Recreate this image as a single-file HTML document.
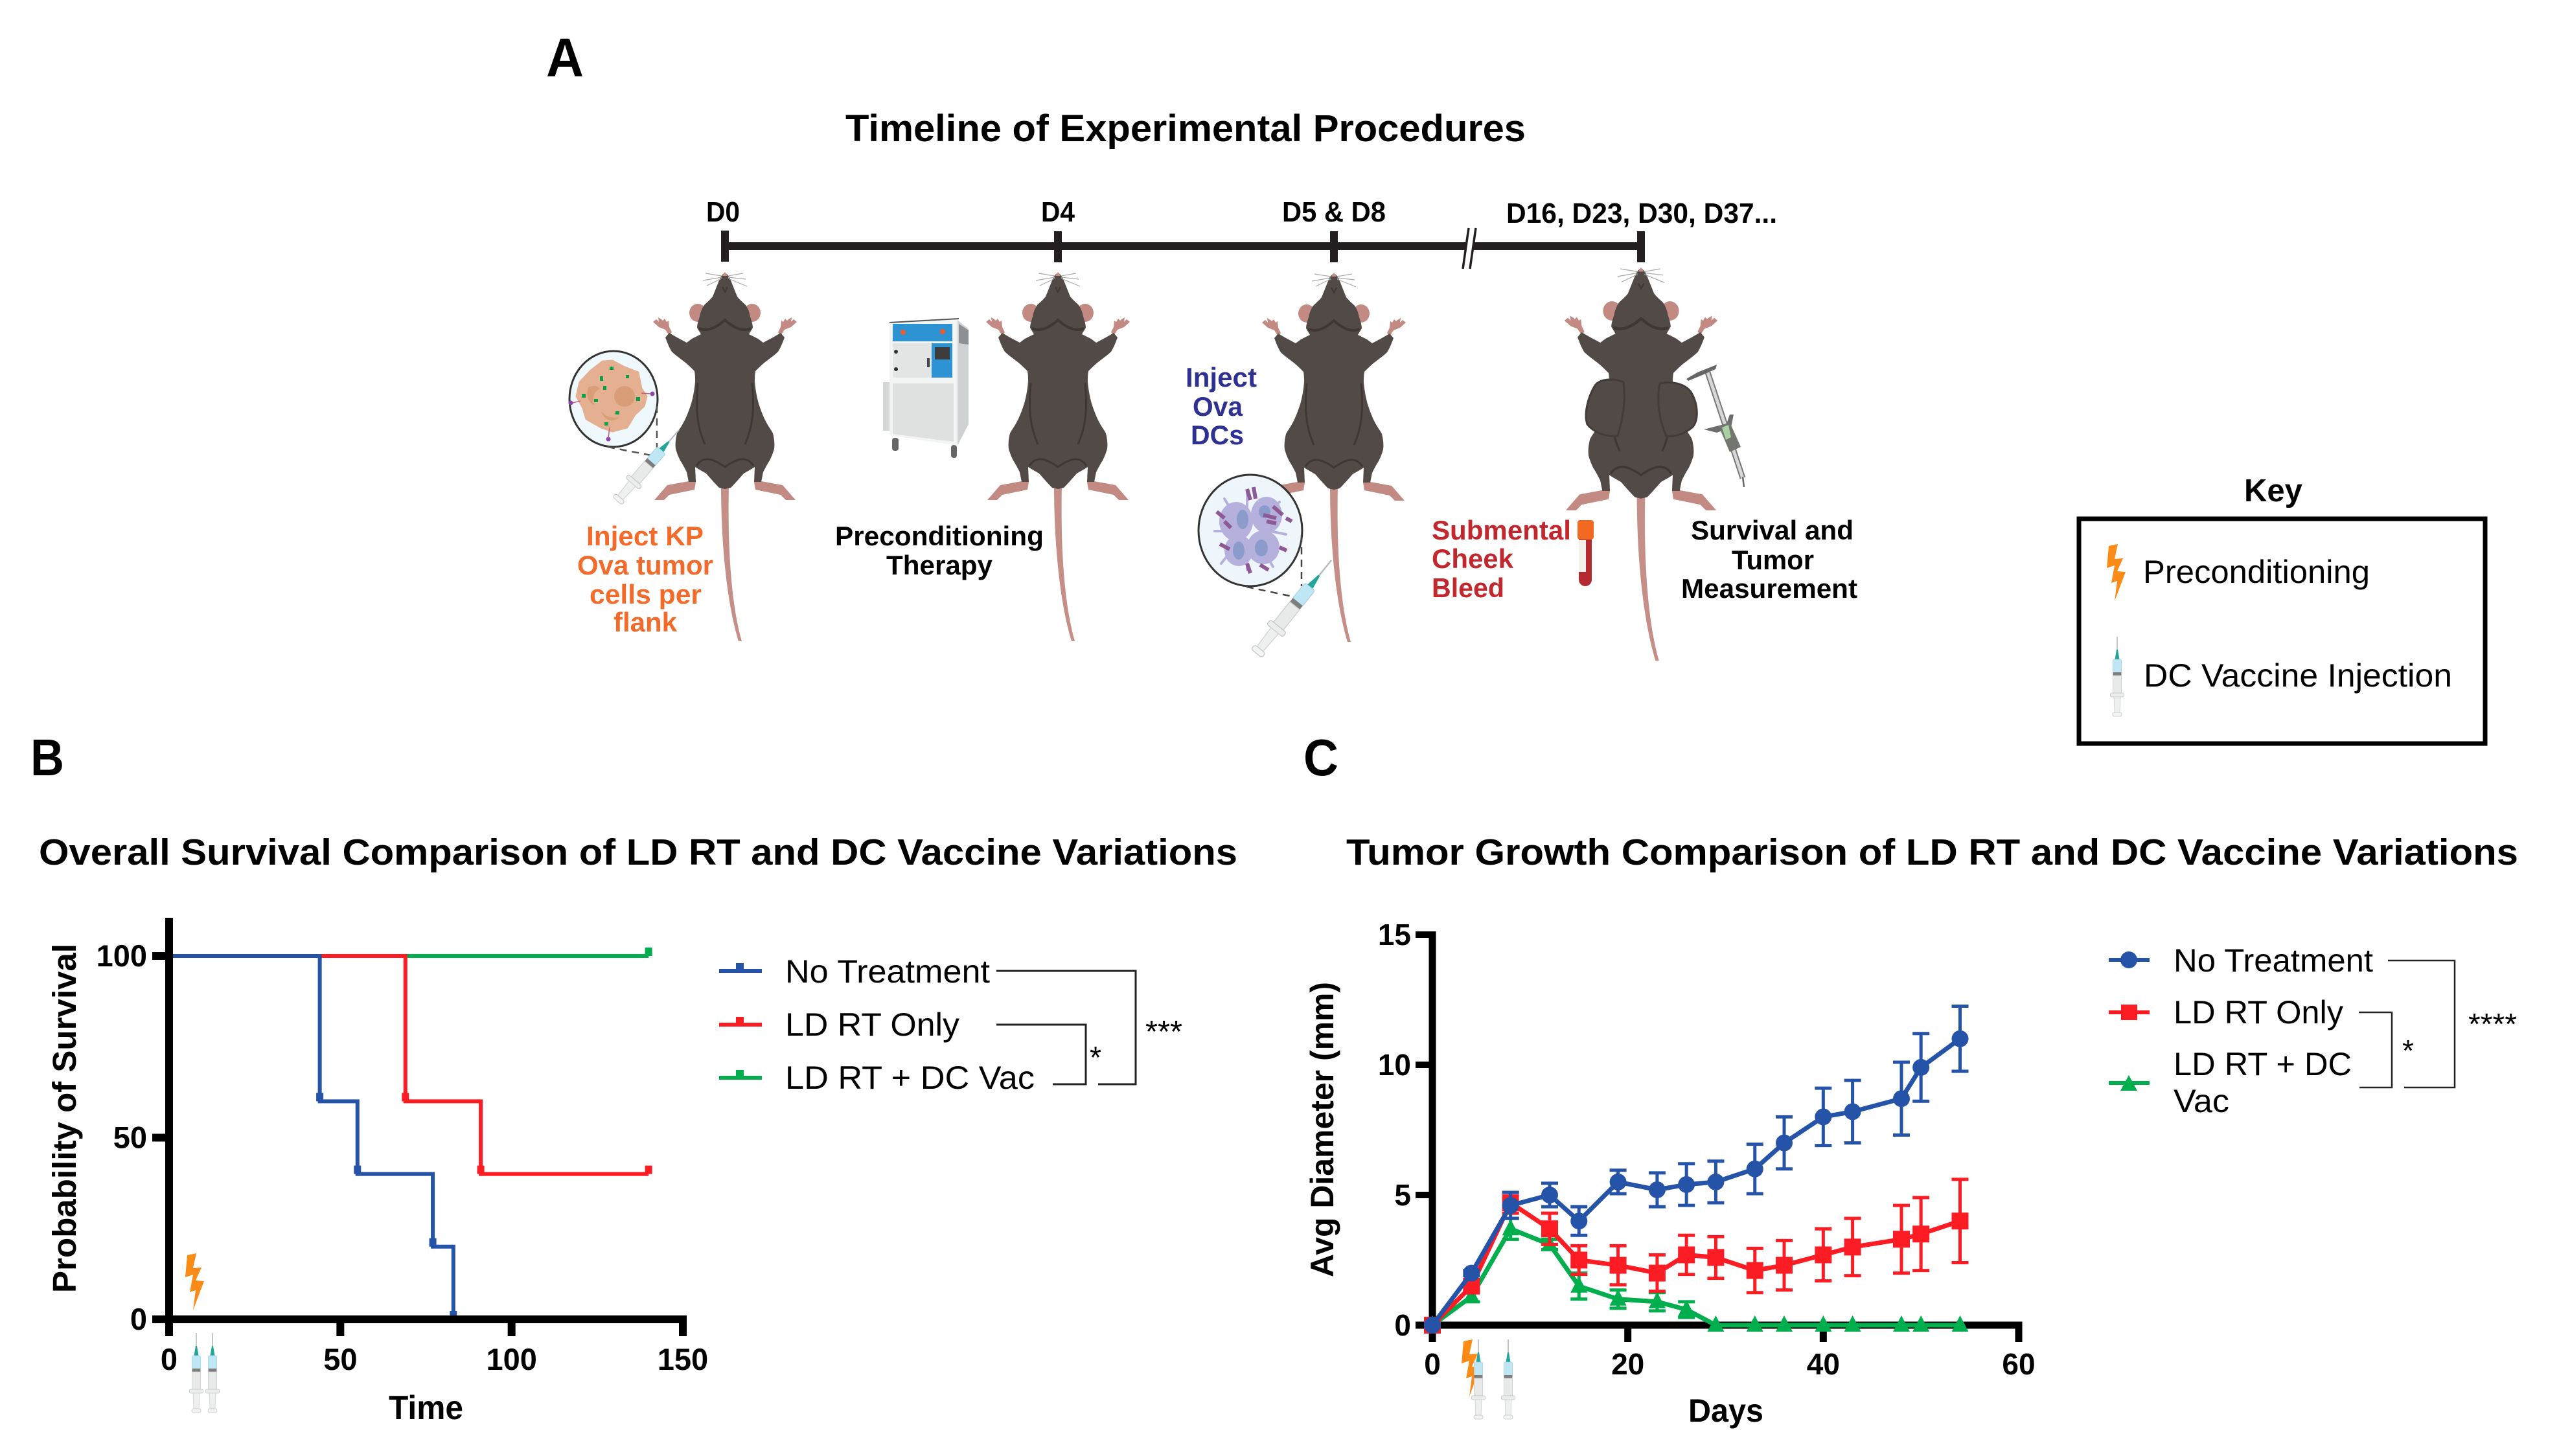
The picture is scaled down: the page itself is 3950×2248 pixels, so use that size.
<!DOCTYPE html>
<html lang="en">
<head>
<meta charset="utf-8">
<title>Experimental timeline, survival and tumor growth</title>
<style>
html,body{margin:0;padding:0;background:#fff;width:3950px;height:2248px;overflow:hidden}
svg{display:block}
text{font-family:"Liberation Sans",Arial,sans-serif;fill:#000}
.b{font-weight:700}
</style>
</head>
<body>
<svg id="figure" xmlns="http://www.w3.org/2000/svg" width="3950" height="2248" viewBox="0 0 3950 2248">
<defs>
  <g id="mouse-art">
    <path fill="#c58e87" d="M-6,328 L6,328 C4,420 9,510 26,569 L21,569 C3,510 -6,420 -6,328 Z"/>
    <g fill="#c28a82">
      <path d="M-45,323 L-56,322 L-89,328 L-109,351 L-94,351 L-86,343 L-47,335 Z"/>
      <path d="M45,323 L56,322 L89,328 L109,351 L94,351 L86,343 L47,335 Z"/>
      <path d="M-86,97 L-92,88 L-102,84 L-111,76 L-106,72 L-102,76 L-103,69 L-98,72 L-96,74 L-93,71 L-90,76 L-87,74 L-86,84 L-82,92 Z"/>
      <path d="M86,97 L92,88 L102,84 L111,76 L106,72 L102,76 L103,69 L98,72 L96,74 L93,71 L90,76 L87,74 L86,84 L82,92 Z"/>
      <ellipse cx="-42" cy="62" rx="13" ry="14"/>
      <ellipse cx="42" cy="62" rx="13" ry="14"/>
    </g>
    <path fill="#524a47" d="M0,0 C-3,2 -6,5 -7,7 L-13,22 L-19,37 C-24,43 -28,46 -32,50 C-36,56 -38,62 -39,68 C-41,74 -43,80 -43,85 L-37,95 L-51,102 L-59,108 L-74,100 L-86,93 L-92,100 C-89,108 -86,116 -82,122 C-77,127 -71,131 -66,135 C-59,140 -53,146 -47,152 C-46,158 -46,163 -46,168 C-47,180 -49,191 -52,202 C-56,214 -60,225 -66,235 C-69,240 -72,244 -74,248 C-76,256 -77,264 -76,272 C-74,279 -72,284 -69,290 C-65,296 -62,302 -59,308 L-56,323 L-45,323 L-46,300 C-40,304 -34,307 -29,310 C-22,318 -15,326 -9,332 L0,334 L9,332 C15,326 22,318 29,310 C34,307 40,304 46,300 L45,323 L56,323 L59,308 C62,302 65,296 69,290 C72,284 74,279 76,272 C77,264 76,256 74,248 C72,244 69,240 66,235 C60,225 56,214 52,202 C49,191 47,180 46,168 C46,163 46,158 47,152 C53,146 59,140 66,135 C71,131 77,127 82,122 C86,116 89,108 92,100 L86,93 L74,100 L59,108 L51,102 L37,95 L43,85 C43,80 41,74 39,68 C38,62 36,56 32,50 C28,46 24,43 19,37 L13,22 L7,7 C6,5 3,2 0,0 Z"/>
    <g fill="none" stroke="#3f3734">
      <path d="M-40,86 C-26,92 -12,84 0,73 C12,84 26,92 40,86" stroke-width="4"/>
      <path d="M-31,265 C-42,240 -46,215 -42,170" stroke-width="3"/>
      <path d="M31,265 C42,240 46,215 42,170" stroke-width="3"/>
      <path d="M-44,298 C-32,280 -14,290 0,300 C14,290 32,280 44,298" stroke-width="3"/>
      <path d="M-4,22 L0,30 L4,22" stroke-width="2"/>
    </g>
    <path fill="#c98f88" d="M-4,5 L0,-1 L4,5 Z"/>
    <g stroke="#aaa" stroke-width="1.2" fill="none">
      <path d="M5,5 L28,1 M5,7 L32,10 M5,9 L34,21 M-5,5 L-30,1 M-5,7 L-34,12 M-5,9 L-28,20"/>
    </g>
  </g>
  <g id="syringe-art">
    <rect x="-0.8" y="0" width="1.6" height="24" fill="#b4baba"/>
    <path d="M-1,20 L1,20 L3.5,35 L-3.5,35 Z" fill="#23a59a"/>
    <rect x="-6.5" y="35" width="13" height="21" rx="2" fill="#bfe6f5" stroke="#a5d3de" stroke-width="0.8"/>
    <rect x="-6.5" y="55" width="13" height="5" fill="#7d7d7d"/>
    <rect x="-6.5" y="60" width="13" height="27" fill="#e8e9e9" stroke="#c9cbcb" stroke-width="0.8"/>
    <rect x="-10.5" y="87" width="21" height="6" rx="2" fill="#ebecec" stroke="#c2c4c4" stroke-width="0.8"/>
    <path d="M-5,93 L5,93 L4,117 L-4,117 Z" fill="#eeefef" stroke="#ced0d0" stroke-width="0.8"/>
    <rect x="-7" y="117" width="14" height="6" rx="2.5" fill="#f4f4f4" stroke="#c2c4c4" stroke-width="0.8"/>
  </g>
  <polygon id="bolt-art" points="3,3 17,0 12,23 25,22 16,42 29,43 12,88 16,57 7,60 12,33 0,37" fill="#fb8b17"/>
</defs>

<rect x="0" y="0" width="3950" height="2248" fill="#fff"/>

<text class="b" x="843" y="118" font-size="84" textLength="58" lengthAdjust="spacingAndGlyphs">A</text>
<text class="b" x="47" y="1197" font-size="80" textLength="52" lengthAdjust="spacingAndGlyphs">B</text>
<text class="b" x="2012" y="1197" font-size="80" textLength="54" lengthAdjust="spacingAndGlyphs">C</text>

<text class="b" x="1305" y="218" font-size="58" textLength="1050" lengthAdjust="spacingAndGlyphs">Timeline of Experimental Procedures</text>

<g>
  <rect x="1113" y="374" width="1426" height="12" fill="#231f20"/>
  <rect x="1113" y="356" width="12" height="48" fill="#231f20"/>
  <rect x="1627" y="357" width="12" height="48" fill="#231f20"/>
  <rect x="2053" y="357" width="12" height="48" fill="#231f20"/>
  <rect x="2527" y="357" width="12" height="48" fill="#231f20"/>
  <g>
    <polygon points="2267,352 2278,352 2269,415 2258,415" fill="#fff"/>
    <path d="M2267,352 L2258,415 M2278,352 L2269,415" stroke="#231f20" stroke-width="3.5" fill="none"/>
  </g>
  <text class="b" x="1090" y="342" font-size="44" textLength="52" lengthAdjust="spacingAndGlyphs">D0</text>
  <text class="b" x="1607" y="342" font-size="44" textLength="52" lengthAdjust="spacingAndGlyphs">D4</text>
  <text class="b" x="1979" y="342" font-size="44" textLength="160" lengthAdjust="spacingAndGlyphs">D5 &amp; D8</text>
  <text class="b" x="2325" y="344" font-size="44" textLength="418" lengthAdjust="spacingAndGlyphs">D16, D23, D30, D37...</text>
</g>

<use href="#mouse-art" transform="translate(1119,421)"/>
<use href="#mouse-art" transform="translate(1633,421)"/>
<use href="#mouse-art" transform="translate(2059,422)"/>
<g>
  <use href="#mouse-art" transform="translate(2533,414) scale(1.065)"/>
  <path d="M2506,590 C2490,583 2470,585 2462,595 C2450,615 2445,640 2450,655 C2460,668 2480,675 2497,673 C2504,650 2510,620 2506,590 Z" fill="#524a47" stroke="#443c39" stroke-width="3"/>
  <path d="M2562,592 C2580,588 2600,592 2610,605 C2622,625 2622,650 2612,660 C2600,670 2585,675 2572,673 C2562,650 2556,620 2562,592 Z" fill="#524a47" stroke="#443c39" stroke-width="3"/>
</g>

<g>
  <ellipse cx="947" cy="616" rx="68" ry="74" fill="#eef8fd" stroke="#333" stroke-width="3"/>
  <path d="M930,558 L945,557 L962,566 L985,575 L990,600 L998,612 L994,627 L980,640 L968,660 L945,666 L928,660 L905,647 L900,630 L890,612 L895,590 L912,572 Z" fill="#e5b092" stroke="#e5b092" stroke-width="3" stroke-linejoin="round"/>
  <ellipse cx="964" cy="612" rx="16" ry="16" fill="#d99d78"/>
  <path d="M908,598 C918,594 922,596 926,600 C914,606 914,618 918,626 C908,622 904,610 908,598 Z" fill="#d99d78"/>
  <path d="M928,635 C936,645 948,646 956,644 C948,652 934,652 928,635 Z" fill="#d99d78"/>
  <g fill="#0aa14a">
    <rect x="941" y="566" width="6" height="5"/><rect x="926" y="581" width="5" height="7"/><rect x="966" y="579" width="5" height="5"/><rect x="931" y="596" width="5" height="6"/><rect x="898" y="608" width="6" height="6"/><rect x="917" y="616" width="6" height="5"/><rect x="982" y="613" width="6" height="6"/><rect x="950" y="635" width="6" height="5"/><rect x="933" y="652" width="6" height="5"/>
  </g>
  <circle cx="1007" cy="608" r="3.5" fill="#8e44ad"/><circle cx="881" cy="622" r="3.5" fill="#8e44ad"/><circle cx="939" cy="678" r="3.5" fill="#8e44ad"/>
  <path d="M990,607 L1005,608 M884,622 L896,619 M941,660 L939,676" stroke="#c2607a" stroke-width="1.5"/>
  <path d="M1014,627 L1014,702 M938,690 L1005,703" stroke="#555" stroke-width="2.5" stroke-dasharray="11 8" fill="none"/>
</g>
<use href="#syringe-art" transform="translate(1048,664) rotate(41) scale(1.3,1.18)"/>

<g>
  <ellipse cx="1930" cy="819" rx="80" ry="86" fill="#eef6fc" stroke="#333" stroke-width="3"/>
  <g stroke="#b6b1dc" stroke-width="4" stroke-linecap="round">
    <path d="M1890,770 L1905,795 M1875,820 L1900,820 M1885,870 L1905,845 M1925,880 L1925,855 M1965,875 L1950,850 M1985,825 L1960,820 M1975,775 L1955,795 M1925,760 L1925,790"/>
  </g>
  <g fill="#b6b1dc">
    <ellipse cx="1908" cy="805" rx="26" ry="30"/><ellipse cx="1955" cy="795" rx="24" ry="28"/><ellipse cx="1912" cy="850" rx="22" ry="24"/><ellipse cx="1950" cy="845" rx="25" ry="26"/>
  </g>
  <g fill="#8b9ccc">
    <ellipse cx="1918" cy="802" rx="9" ry="15"/><ellipse cx="1952" cy="790" rx="9" ry="10"/><ellipse cx="1912" cy="850" rx="9" ry="14"/><ellipse cx="1947" cy="846" rx="10" ry="13"/>
  </g>
  <g stroke="#8d5a96" stroke-width="6">
    <path d="M1925,755 L1930,772 M1935,752 L1938,770 M1878,790 L1890,800 M1965,782 L1980,795 M1950,795 L1970,800 M1955,805 L1970,808 M1985,800 L1994,805 M1883,840 L1898,848 M1945,872 L1958,880 M1925,870 L1930,885 M1975,845 L1986,850 M1890,805 L1900,815"/>
  </g>
  <path d="M2009,826 L2009,905 M1924,906 L2000,922" stroke="#444" stroke-width="2.5" stroke-dasharray="11 8" fill="none"/>
</g>
<use href="#syringe-art" transform="translate(2055,865) rotate(38.8) scale(1.5)"/>

<g>
  <rect x="1377" y="676" width="10" height="20" rx="4" fill="#666"/>
  <rect x="1468" y="687" width="9" height="20" rx="4" fill="#666"/>
  <rect x="1363" y="590" width="11" height="75" fill="#d5d7d7"/>
  <polygon points="1478,494 1495,508 1495,655 1478,688" fill="#cfd2d3"/>
  <polygon points="1480,500 1495,510 1495,532 1480,530" fill="#8d9092"/>
  <polygon points="1373,498 1478,492 1478,688 1373,672" fill="#f3f4f4"/>
  <path d="M1373,498 L1480,492" stroke="#555" stroke-width="2"/>
  <rect x="1378" y="500" width="92" height="27" fill="#2d93d3"/>
  <rect x="1378" y="530" width="60" height="53" fill="#e3e4e4"/>
  <rect x="1438" y="530" width="32" height="53" fill="#2d93d3"/>
  <rect x="1443" y="536" width="23" height="19" fill="#3c3c3c"/>
  <polygon points="1378,592 1472,592 1472,682 1378,670" fill="#dfe1e0"/>
  <circle cx="1394" cy="513" r="4" fill="#ef5b2b"/><circle cx="1455" cy="512" r="4" fill="#ef5b2b"/>
  <rect x="1431" y="553" width="4" height="14" fill="#444"/>
  <circle cx="1383" cy="543" r="3" fill="#333"/><circle cx="1383" cy="570" r="3" fill="#333"/>
</g>

<text class="b" style="fill:#f26b2b" x="905" y="842" font-size="42" textLength="181" lengthAdjust="spacingAndGlyphs">Inject KP</text>
<text class="b" style="fill:#f26b2b" x="891" y="887" font-size="42" textLength="210" lengthAdjust="spacingAndGlyphs">Ova tumor</text>
<text class="b" style="fill:#f26b2b" x="910" y="932" font-size="42" textLength="173" lengthAdjust="spacingAndGlyphs">cells per</text>
<text class="b" style="fill:#f26b2b" x="947" y="975" font-size="42" textLength="98" lengthAdjust="spacingAndGlyphs">flank</text>

<text class="b" x="1289" y="842" font-size="42" textLength="322" lengthAdjust="spacingAndGlyphs">Preconditioning</text>
<text class="b" x="1368" y="887" font-size="42" textLength="164" lengthAdjust="spacingAndGlyphs">Therapy</text>

<text class="b" style="fill:#2e3192" x="1830" y="597" font-size="42" textLength="110" lengthAdjust="spacingAndGlyphs">Inject</text>
<text class="b" style="fill:#2e3192" x="1841" y="642" font-size="42" textLength="77" lengthAdjust="spacingAndGlyphs">Ova</text>
<text class="b" style="fill:#2e3192" x="1838" y="686" font-size="42" textLength="82" lengthAdjust="spacingAndGlyphs">DCs</text>

<text class="b" style="fill:#c1272d" x="2210" y="833" font-size="42" textLength="215" lengthAdjust="spacingAndGlyphs">Submental</text>
<text class="b" style="fill:#c1272d" x="2210" y="877" font-size="42" textLength="126" lengthAdjust="spacingAndGlyphs">Cheek</text>
<text class="b" style="fill:#c1272d" x="2210" y="922" font-size="42" textLength="112" lengthAdjust="spacingAndGlyphs">Bleed</text>

<g>
  <path d="M2437,832 L2457,832 L2457,895 A10,10 0 0 1 2437,895 Z" fill="#b52a31"/>
  <rect x="2437" y="834" width="11" height="49" fill="#f2f1ea"/>
  <rect x="2435" y="803" width="25" height="30" rx="4" fill="#f26a21"/>
</g>

<text class="b" x="2610" y="833" font-size="42" textLength="251" lengthAdjust="spacingAndGlyphs">Survival and</text>
<text class="b" x="2673" y="879" font-size="42" textLength="127" lengthAdjust="spacingAndGlyphs">Tumor</text>
<text class="b" x="2595" y="923" font-size="42" textLength="272" lengthAdjust="spacingAndGlyphs">Measurement</text>

<g>
  <path d="M2636,575 L2690,738" stroke="#777" stroke-width="9"/>
  <path d="M2636,575 L2690,738" stroke="#d8d8d8" stroke-width="5"/>
  <path d="M2690,736 L2692,752" stroke="#666" stroke-width="2.5"/>
  <polygon points="2603,585 2620,575 2650,563 2648,570 2630,578 2606,588" fill="#666"/>
  <polygon points="2630,663 2665,654 2670,640 2676,640 2672,660 2650,668" fill="#6d6d6d"/>
  <polygon points="2653,658 2670,652 2687,690 2670,698" fill="#73766e"/>
  <polygon points="2658,660 2668,656 2672,675 2664,679" fill="#a8d0a0"/>
</g>

<text class="b" x="3464" y="774" font-size="49">Key</text>
<g>
  <rect x="3209" y="801" width="627" height="347" fill="none" stroke="#000" stroke-width="7"/>
  <use href="#bolt-art" transform="translate(3252,840)"/>
  <text x="3308" y="900" font-size="50.5" textLength="350" lengthAdjust="spacingAndGlyphs">Preconditioning</text>
  <use href="#syringe-art" transform="translate(3268,983)"/>
  <text x="3309" y="1060" font-size="50.5" textLength="476" lengthAdjust="spacingAndGlyphs">DC Vaccine Injection</text>
</g>

<text class="b" x="60" y="1335" font-size="57" textLength="1850" lengthAdjust="spacingAndGlyphs">Overall Survival Comparison of LD RT and DC Vaccine Variations</text>
<text class="b" x="2078" y="1335" font-size="57" textLength="1809" lengthAdjust="spacingAndGlyphs">Tumor Growth Comparison of LD RT and DC Vaccine Variations</text>

<!-- Survival chart -->
<g id="survival-chart">
  <text class="b" transform="translate(117,1996) rotate(-90)" font-size="51" textLength="539" lengthAdjust="spacingAndGlyphs">Probability of Survival</text>
  <text class="b" x="600" y="2191" font-size="52" textLength="115" lengthAdjust="spacingAndGlyphs">Time</text>
  <use href="#bolt-art" transform="translate(286,1935)"/>
  <use href="#syringe-art" transform="translate(303,2058)"/>
  <use href="#syringe-art" transform="translate(328,2058)"/>
</g>
<g>
  <g>
    <rect x="1110" y="1496" width="66" height="6" fill="#2453a8"/><rect x="1136" y="1487" width="12" height="12" fill="#2453a8"/>
    <text x="1212" y="1517" font-size="50" textLength="316" lengthAdjust="spacingAndGlyphs">No Treatment</text>
  </g>
  <g>
    <rect x="1110" y="1579" width="66" height="6" fill="#fb1c24"/><rect x="1136" y="1570" width="12" height="12" fill="#fb1c24"/>
    <text x="1212" y="1599" font-size="50" textLength="269" lengthAdjust="spacingAndGlyphs">LD RT Only</text>
  </g>
  <g>
    <rect x="1110" y="1661" width="66" height="6" fill="#00ae4d"/><rect x="1136" y="1652" width="12" height="12" fill="#00ae4d"/>
    <text x="1212" y="1681" font-size="50" textLength="385" lengthAdjust="spacingAndGlyphs">LD RT + DC Vac</text>
  </g>
  <path d="M1538,1499 H1753 V1674 H1695" fill="none" stroke="#222" stroke-width="3"/>
  <path d="M1538,1582 H1676 V1674 H1625" fill="none" stroke="#222" stroke-width="3"/>
  <text x="1768" y="1609" font-size="48" textLength="57" lengthAdjust="spacingAndGlyphs">***</text>
  <text x="1682" y="1649" font-size="48" textLength="18" lengthAdjust="spacingAndGlyphs">*</text>
</g>

<!-- Tumor growth chart -->
<g id="growth-chart">
  <text class="b" transform="translate(2058,1972) rotate(-90)" font-size="50" textLength="456" lengthAdjust="spacingAndGlyphs">Avg Diameter (mm)</text>
  <text class="b" x="2606" y="2195" font-size="50" textLength="116" lengthAdjust="spacingAndGlyphs">Days</text>
  <use href="#bolt-art" transform="translate(2256,2068)"/>
  <use href="#syringe-art" transform="translate(2282,2068)"/>
  <use href="#syringe-art" transform="translate(2328,2068)"/>
</g>
<g>
  <g>
    <rect x="3255" y="1479" width="63" height="6" fill="#2453a8"/><circle cx="3286" cy="1482" r="13" fill="#2453a8"/>
    <text x="3355" y="1500" font-size="50" textLength="308" lengthAdjust="spacingAndGlyphs">No Treatment</text>
  </g>
  <g>
    <rect x="3255" y="1560" width="63" height="6" fill="#fb1c24"/><rect x="3274" y="1551" width="25" height="24" fill="#fb1c24"/>
    <text x="3355" y="1580" font-size="50" textLength="262" lengthAdjust="spacingAndGlyphs">LD RT Only</text>
  </g>
  <g>
    <rect x="3255" y="1669" width="63" height="6" fill="#00ae4d"/><polygon points="3286,1660 3299,1684 3273,1684" fill="#00ae4d"/>
    <text x="3355" y="1660" font-size="50" textLength="275" lengthAdjust="spacingAndGlyphs">LD RT + DC</text>
    <text x="3355" y="1717" font-size="50" textLength="86" lengthAdjust="spacingAndGlyphs">Vac</text>
  </g>
  <path d="M3686,1483 H3789 V1679 H3711" fill="none" stroke="#222" stroke-width="2.5"/>
  <path d="M3641,1563 H3692 V1679 H3642" fill="none" stroke="#222" stroke-width="2.5"/>
  <text x="3810" y="1597" font-size="46" textLength="75" lengthAdjust="spacingAndGlyphs">****</text>
  <text x="3708" y="1638" font-size="46" textLength="18" lengthAdjust="spacingAndGlyphs">*</text>
</g>

<script>
// ---- Survival chart data ----
var survivalXTicks = [0, 50, 100, 150];
var survivalYTicks = [0, 50, 100];
var noTreatmentTimes = [0, 44, 55, 77, 83];
var noTreatmentSurvival = [100, 60, 40, 20, 0];
var ldRtOnlyTimes = [0, 69, 91, 140];
var ldRtOnlySurvival = [100, 60, 40, 40];
var ldRtDcVacTimes = [0, 140];
var ldRtDcVacSurvival = [100, 100];

// ---- Tumor growth chart data ----
var growthXTicks = [0, 20, 40, 60];
var growthYTicks = [0, 5, 10, 15];
var growthDays = [0, 4, 8, 12, 15, 19, 23, 26, 29, 33, 36, 40, 43, 48, 50, 54];
var noTreatmentMean = [0, 2, 4.6, 5, 4, 5.5, 5.2, 5.4, 5.5, 6, 7, 8, 8.2, 8.7, 9.9, 11];
var noTreatmentErr = [0, 0.1, 0.5, 0.45, 0.55, 0.45, 0.65, 0.8, 0.8, 0.95, 1, 1.1, 1.2, 1.4, 1.3, 1.25];
var ldRtOnlyMean = [0, 1.5, 4.7, 3.7, 2.5, 2.3, 2, 2.7, 2.6, 2.1, 2.3, 2.7, 3, 3.3, 3.5, 4];
var ldRtOnlyErr = [0, 0.2, 0.4, 0.6, 0.55, 0.75, 0.7, 0.75, 0.8, 0.85, 0.95, 1, 1.1, 1.3, 1.4, 1.6];
var ldRtDcVacMean = [0, 1.1, 3.7, 3.1, 1.5, 1, 0.9, 0.6, 0, 0, 0, 0, 0, 0, 0, 0];
var ldRtDcVacErr = [0, 0.2, 0.4, 0.2, 0.5, 0.35, 0.35, 0.3, 0, 0, 0, 0, 0, 0, 0, 0];

var NS = 'http://www.w3.org/2000/svg';
var BLUE = '#2453a8', RED = '#fb1c24', GREEN = '#00ae4d';

function xSurvival(v) { return 261 + v * (1054 - 261) / 150; }
function ySurvival(v) { return 2037 - v * (2037 - 1476) / 100; }
function xGrowth(v) { return 2211 + v * (3116 - 2211) / 60; }
function yGrowth(v) { return 2046 - v * (2046 - 1443) / 15; }

function svgEl(tag, parent, attrs) {
  var el = document.createElementNS(NS, tag);
  for (var k in attrs) { el.setAttribute(k, attrs[k]); }
  parent.appendChild(el);
  return el;
}

function stepPath(times, values) {
  var d = 'M' + xSurvival(times[0]) + ',' + ySurvival(values[0]);
  for (var i = 1; i < times.length; i++) {
    d += ' H' + xSurvival(times[i]) + ' V' + ySurvival(values[i]);
  }
  return d;
}

function drawSurvival() {
  var root = document.getElementById('survival-chart');
  var seriesList = [
    { key: 'ld-rt-dc-vac', t: ldRtDcVacTimes, s: ldRtDcVacSurvival, c: GREEN },
    { key: 'ld-rt-only', t: ldRtOnlyTimes, s: ldRtOnlySurvival, c: RED },
    { key: 'no-treatment', t: noTreatmentTimes, s: noTreatmentSurvival, c: BLUE }
  ];
  seriesList.forEach(function (ser) {
    var g = svgEl('g', root, {});
    
    
    var line = svgEl('path', g, { d: stepPath(ser.t, ser.s), fill: 'none', stroke: ser.c, 'stroke-width': 6 });
    
    
    for (var i = 1; i < ser.t.length; i++) {
      var m = svgEl('rect', g, { x: xSurvival(ser.t[i]) - 5.5, y: ySurvival(ser.s[i]) - 13, width: 11, height: 13, fill: ser.c });
      
      
    }
  });
  var yAxis = svgEl('rect', root, { x: xSurvival(0) - 6, y: 1417, width: 12, height: 2063 - 1417, fill: '#000' });
  
  
  var xAxis = svgEl('rect', root, { x: 235, y: ySurvival(0) - 6, width: xSurvival(150) + 6 - 235, height: 12, fill: '#000' });
  
  
  survivalXTicks.forEach(function (v) {
    var t = svgEl('rect', root, { x: xSurvival(v) - 6, y: 2037, width: 12, height: 26, fill: '#000' });
    
    
    var l = svgEl('text', root, { x: xSurvival(v), y: 2115, 'font-size': 47, 'font-weight': 700, 'text-anchor': 'middle' });
    
    
    l.textContent = String(v);
  });
  survivalYTicks.forEach(function (v) {
    var t = svgEl('rect', root, { x: 235, y: ySurvival(v) - 6, width: 26, height: 12, fill: '#000' });
    
    
    var l = svgEl('text', root, { x: 227, y: ySurvival(v) + 16, 'font-size': 47, 'font-weight': 700, 'text-anchor': 'end' });
    
    
    l.textContent = String(v);
  });
}

function drawGrowthAxes(root) {
  var yAxis = svgEl('rect', root, { x: xGrowth(0) - 5.5, y: yGrowth(15) - 5, width: 11, height: 2072 - yGrowth(15) + 5, fill: '#000' });
  
  
  var xAxis = svgEl('rect', root, { x: 2185, y: yGrowth(0) - 5.5, width: xGrowth(60) + 5.5 - 2185, height: 11, fill: '#000' });
  
  
  growthXTicks.forEach(function (v) {
    var t = svgEl('rect', root, { x: xGrowth(v) - 5.5, y: 2046, width: 11, height: 26, fill: '#000' });
    
    
    var l = svgEl('text', root, { x: xGrowth(v), y: 2122, 'font-size': 46, 'font-weight': 700, 'text-anchor': 'middle' });
    
    
    l.textContent = String(v);
  });
  growthYTicks.forEach(function (v) {
    var t = svgEl('rect', root, { x: 2185, y: yGrowth(v) - 5, width: 26, height: 10, fill: '#000' });
    
    
    var l = svgEl('text', root, { x: 2178, y: yGrowth(v) + 16, 'font-size': 46, 'font-weight': 700, 'text-anchor': 'end' });
    
    
    l.textContent = String(v);
  });
}

function drawGrowthSeries(root, key, means, errs, color, shape) {
  var g = svgEl('g', root, {});
  
  
  var pts = growthDays.map(function (d, i) { return xGrowth(d) + ',' + yGrowth(means[i]); }).join(' ');
  var line = svgEl('polyline', g, { points: pts, fill: 'none', stroke: color, 'stroke-width': 7 });
  
  
  growthDays.forEach(function (d, i) {
    var cx = xGrowth(d), cy = yGrowth(means[i]);
    if (errs[i] > 0) {
      var hi = yGrowth(means[i] + errs[i]), lo = yGrowth(means[i] - errs[i]);
      var bar = svgEl('path', g, { d: 'M' + cx + ',' + hi + ' V' + lo + ' M' + (cx - 13) + ',' + hi + ' H' + (cx + 13) + ' M' + (cx - 13) + ',' + lo + ' H' + (cx + 13), fill: 'none', stroke: color, 'stroke-width': 5 });
      
      
    }
    var m;
    if (shape === 'circle') {
      m = svgEl('circle', g, { cx: cx, cy: cy, r: 13, fill: color });
    } else if (shape === 'square') {
      m = svgEl('rect', g, { x: cx - 13, y: cy - 13, width: 26, height: 26, fill: color });
    } else {
      m = svgEl('polygon', g, { points: cx + ',' + (cy - 15) + ' ' + (cx + 13) + ',' + (cy + 10) + ' ' + (cx - 13) + ',' + (cy + 10), fill: color });
    }
    
    
  });
}

drawSurvival();
(function () {
  var root = document.getElementById('growth-chart');
  drawGrowthAxes(root);
  drawGrowthSeries(root, 'ld-rt-dc-vac', ldRtDcVacMean, ldRtDcVacErr, GREEN, 'triangle');
  drawGrowthSeries(root, 'ld-rt-only', ldRtOnlyMean, ldRtOnlyErr, RED, 'square');
  drawGrowthSeries(root, 'no-treatment', noTreatmentMean, noTreatmentErr, BLUE, 'circle');
})();
</script>
</svg>
</body>
</html>
